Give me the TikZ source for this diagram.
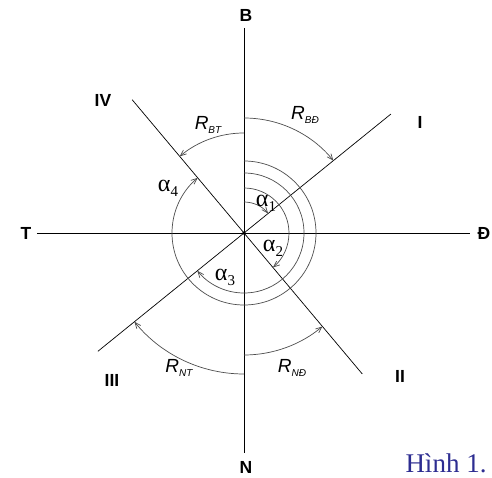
\documentclass[tikz,border=0pt]{standalone}
\usepackage{fontspec}
\setmainfont{Liberation Sans}
\newfontfamily\serif{Liberation Serif}
\usetikzlibrary{arrows.meta,calc}
\definecolor{hinhblue}{RGB}{45,45,145}
\tikzset{
  axis/.style={draw=black, line width=0.7pt},
  arcline/.style={draw=black!70, line width=0.7pt, -{Straight Barb[length=6pt,width=5pt]}},
  dirlab/.style={font=\fontsize{17.5}{17.5}\selectfont\bfseries, inner sep=0pt},
  rlab/.style={font=\fontsize{19}{19}\selectfont\itshape, inner sep=0pt},
  alab/.style={font=\fontsize{24}{24}\serif, inner sep=0pt}
}
\newcommand{\Rsub}[1]{R\raisebox{-0.35ex}{\fontsize{10}{10}\selectfont\itshape #1}}
\newcommand{\Asub}[1]{α\raisebox{-0.45ex}{\fontsize{15}{15}\selectfont #1}}
\begin{document}
\begin{tikzpicture}[x=1pt,y=1pt]
\useasboundingbox (-244,-245) rectangle (248,233);
\coordinate (O) at (0,0);
\coordinate (Btop) at (0,205);
\coordinate (Nbot) at (0,-220);
\coordinate (Tl) at (-207,0);
\coordinate (Dr) at (226,0);
\coordinate (EI) at (39:189);
\coordinate (EIII) at (219:188);
\coordinate (EIV) at (130:174);
\coordinate (EII) at (-50:184);
% axes
\draw[axis] (Btop) -- (Nbot);
\draw[axis] (Tl) -- (Dr);
\draw[axis] (EIII) -- (EI);
\draw[axis] (EIV) -- (EII);
\fill (O) circle (1.8);
% R arcs
\draw[arcline] ($(O)+(90:115)$) arc[start angle=90, end angle=39, radius=115];
\draw[arcline] ($(O)+(90:100)$) arc[start angle=90, end angle=130, radius=100];
\draw[arcline] ($(O)+(270:122)$) arc[start angle=270, end angle=310, radius=122];
\draw[arcline] ($(O)+(270:141)$) arc[start angle=270, end angle=219, radius=141];
% alpha arcs
\draw[arcline] ($(O)+(90:31)$) arc[start angle=90, end angle=39, radius=31];
\draw[arcline] ($(O)+(90:45)$) arc[start angle=90, end angle=-50, radius=45];
\draw[arcline] ($(O)+(90:60)$) arc[start angle=90, end angle=-141, radius=60];
\draw[arcline] ($(O)+(90:72)$) arc[start angle=90, end angle=-230, radius=72];
% direction labels
\node[dirlab] (B) at (2,218) {B};
\node[dirlab] (N) at (2,-234) {N};
\node[dirlab] (T) at (-218,0) {T};
\node[dirlab] (D) at (240,0) {Đ};
\node[dirlab] (I) at (176,111) {I};
\node[dirlab] (II) at (156,-143) {II};
\node[dirlab] (III) at (-132,-147) {III};
\node[dirlab] (IV) at (-141,133) {IV};
% R labels
\node[rlab] (RBT) at (-36,108) {\Rsub{BT}};
\node[rlab] (RBD) at (61,118) {\Rsub{BĐ}};
\node[rlab] (RNT) at (-65,-135) {\Rsub{NT}};
\node[rlab] (RND) at (48,-135) {\Rsub{NĐ}};
% alpha labels
\node[alab] (a1) at (22,30) {\Asub{1}};
\node[alab] (a2) at (29,-15) {\Asub{2}};
\node[alab] (a3) at (-19,-44) {\Asub{3}};
\node[alab] (a4) at (-76,45) {\Asub{4}};
% caption
\node[font=\fontsize{27}{27}\serif, text=hinhblue, inner sep=0pt] (cap) at (202,-230) {Hình 1.};
\end{tikzpicture}
\end{document}
